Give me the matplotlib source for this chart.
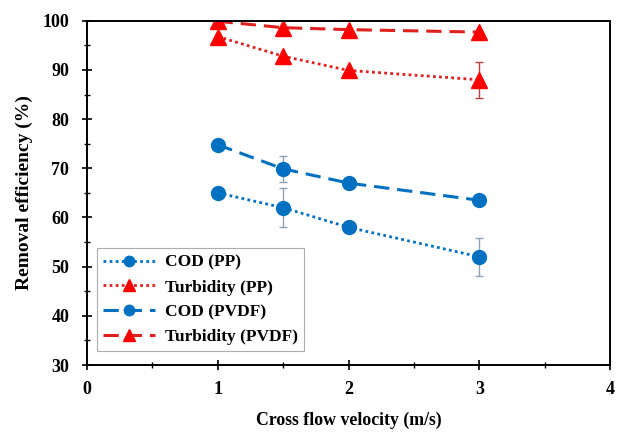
import matplotlib
matplotlib.use("Agg")
import matplotlib.pyplot as plt
from matplotlib.ticker import MultipleLocator
from matplotlib.lines import Line2D

velocity = [1, 1.5, 2, 3]
cod_pp = [65, 62, 58, 52]
cod_pp_err = [0, 3.9, 0, 3.8]
turb_pp = [96.8, 92.8, 89.9, 88.0]
turb_pp_err = [0, 0, 0, 3.7]
cod_pvdf = [74.8, 69.9, 67.0, 63.5]
cod_pvdf_err = [0, 2.7, 0, 0]
turb_pvdf = [99.9, 98.6, 98.2, 97.7]
turb_pvdf_err = [0, 0, 0, 0]

plt.rcParams['font.family'] = ['Liberation Serif', 'DejaVu Serif']
plt.rcParams['font.weight'] = 'bold'

fig = plt.figure(figsize=(6.24, 4.33), dpi=100)
ax = fig.add_axes([0.139, 0.157, 0.839, 0.795])

blue = '#0070C0'
red_line = '#E0201F'
red_mk = '#FF0000'

handles = []
def plot_series(y, err, color, mcolor, ls, marker, label, ms):
    dashes = (5, 2.6) if ls == '--' else (1, 1.2)
    lw = 2.2 if ls == '--' else 2.0
    ax.errorbar(velocity, y, yerr=err, color=color, ls=ls, lw=lw,
                marker=marker, ms=ms, mfc=mcolor, mec=mcolor,
                ecolor='#8FA0B5' if color == blue else '#C04040',
                elinewidth=1, capsize=3, dashes=dashes)
    handles.append(Line2D([], [], color=color, ls=ls, lw=lw, dashes=dashes,
                          marker=marker, ms=ms * 0.75, mfc=mcolor, mec=mcolor, label=label))

plot_series(cod_pp, cod_pp_err, blue, blue, ':', 'o', 'COD (PP)', 10)
plot_series(turb_pp, turb_pp_err, red_line, red_mk, ':', '^', 'Turbidity (PP)', 11)
plot_series(cod_pvdf, cod_pvdf_err, blue, blue, '--', 'o', 'COD (PVDF)', 10)
plot_series(turb_pvdf, turb_pvdf_err, red_line, red_mk, '--', '^', 'Turbidity (PVDF)', 11)

ax.set_xlim(0, 4)
ax.set_ylim(30, 100)
ax.xaxis.set_major_locator(MultipleLocator(1))
ax.xaxis.set_minor_locator(MultipleLocator(0.5))
ax.yaxis.set_major_locator(MultipleLocator(10))
ax.yaxis.set_minor_locator(MultipleLocator(5))
ax.tick_params(which='major', direction='inout', length=7, width=1.2, labelsize=13, top=False, right=False)
ax.tick_params(axis='x', which='major', pad=8)
ax.tick_params(axis='y', which='major', pad=9)
ax.tick_params(which='minor', direction='inout', length=4, width=1.0, top=False, right=False)
for s in ax.spines.values():
    s.set_linewidth(1.4)
for lab in ax.get_xticklabels() + ax.get_yticklabels():
    lab.set_fontweight('bold')

ax.set_xlabel('Cross flow velocity (m/s)', fontsize=12.8, fontweight='bold')
ax.xaxis.set_label_coords(0.5, -0.135)
ax.set_ylabel('Removal efficiency (%)', fontsize=14, fontweight='bold')
ax.yaxis.set_label_coords(-0.103, 0.5)

leg = ax.legend(handles=handles, loc='lower left', bbox_to_anchor=(0.019, 0.04), fontsize=12.5,
                frameon=True, fancybox=False, edgecolor='#999999', handlelength=3.0,
                borderpad=0.35, labelspacing=0.5, handletextpad=0.6, borderaxespad=0)
leg.get_frame().set_linewidth(0.8)

fig.savefig('out.png', dpi=100)
